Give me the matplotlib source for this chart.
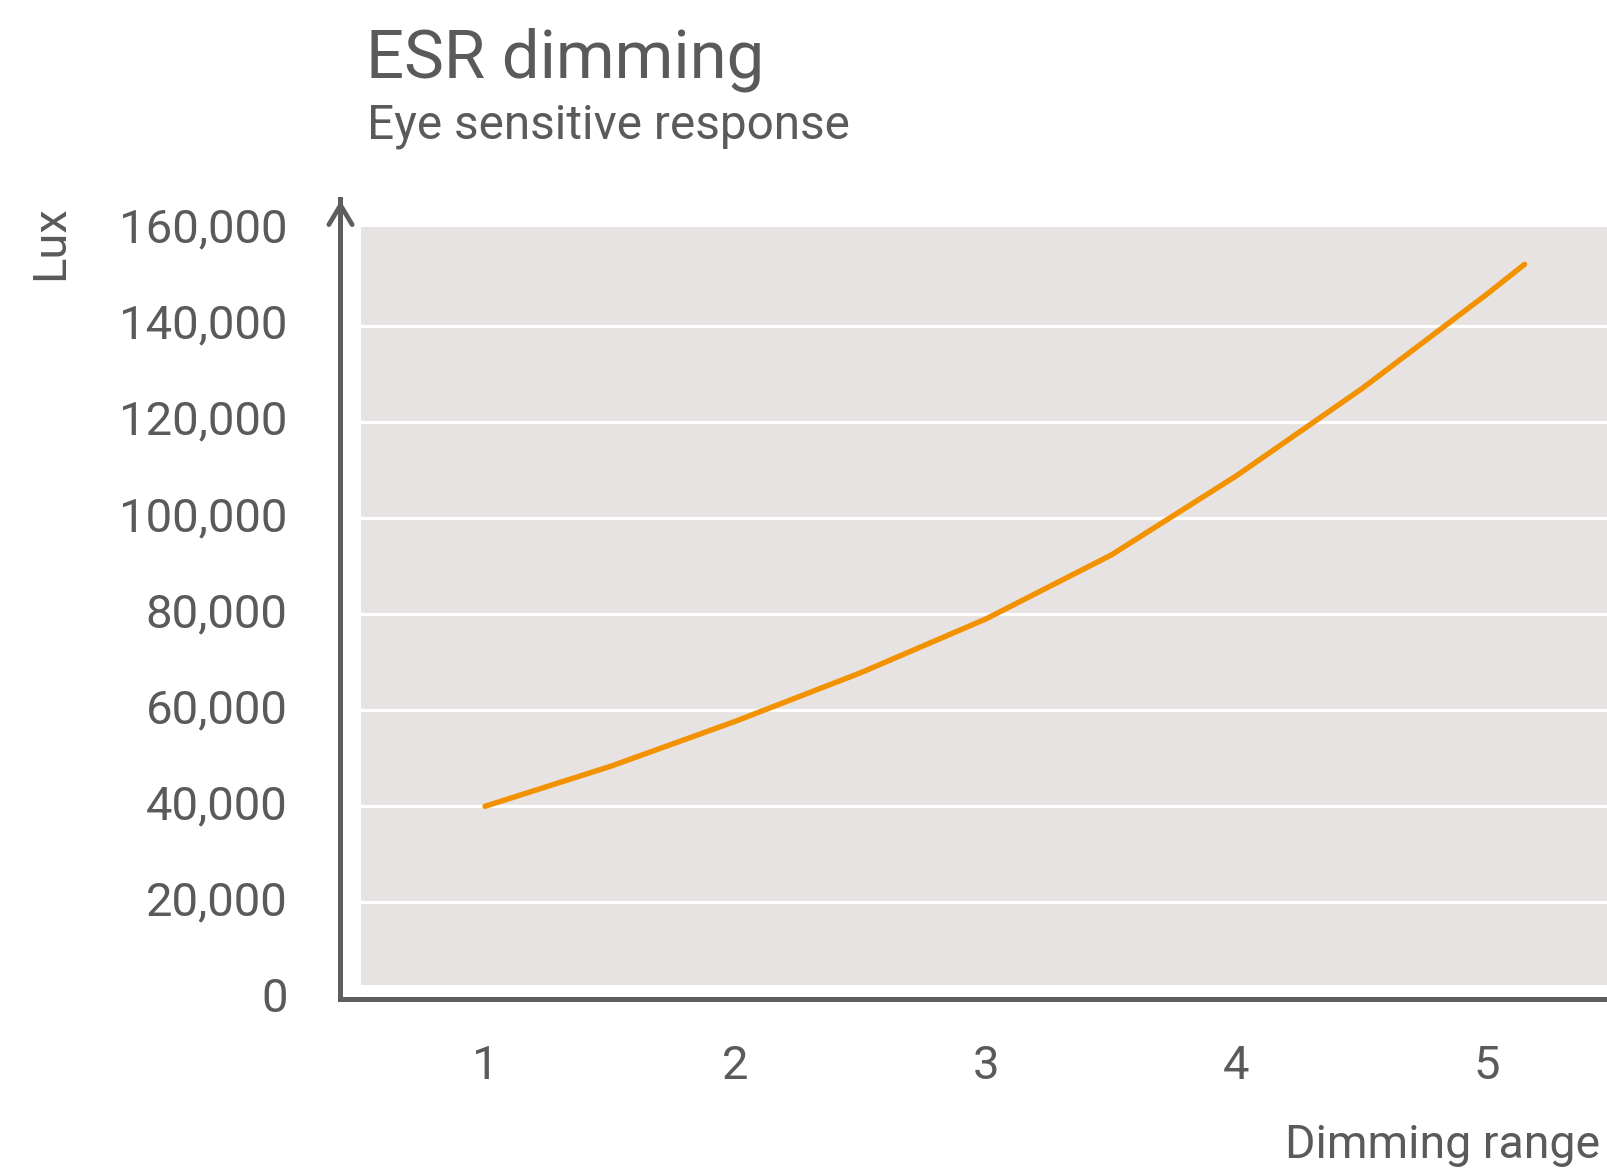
import matplotlib
matplotlib.use("Agg")
import matplotlib.pyplot as plt
from matplotlib.ticker import FuncFormatter

# ---- data ----
dimming_range = [1.0, 1.5, 2.0, 2.5, 3.0, 3.5, 4.0, 4.5, 5.0, 5.15]
lux = [40000, 48300, 57700, 67800, 79000, 92300, 108800, 126900, 146600, 152800]
x_ticks = [1, 2, 3, 4, 5]
y_ticks = [0, 20000, 40000, 60000, 80000, 100000, 120000, 140000, 160000]

title = "ESR dimming"
subtitle = "Eye sensitive response"
y_label = "Lux"
x_label = "Dimming range"

# ---- style ----
TEXT = "#5b5a59"
AXIS = "#5f5e5c"
BG = "#e8e3e3"
ORANGE = "#f39200"
FONT = "Roboto"

W, H = 1608, 1168
fig = plt.figure(figsize=(W / 100, H / 100), dpi=100)
fig.patch.set_facecolor("white")

ax_left_px, ax_bottom_px, ax_top_px = 340.5, 998.5, 199
ax = fig.add_axes([ax_left_px / W, 1 - ax_bottom_px / H,
                   (W - ax_left_px) / W, (ax_bottom_px - ax_top_px) / H])
ax.set_facecolor("white")
ax.set_xlim(0.4232, 5.483)
ax.set_ylim(0, 166389)

# gray plot region
ax.axhspan(2810, 160562, xmin=0.0162, xmax=1.0, color=BG, lw=0, zorder=0)

# grid
ax.set_yticks(y_ticks)
ax.set_xticks(x_ticks)
ax.yaxis.grid(True, color="white", lw=2.3, zorder=1)
ax.set_axisbelow(True)
gl = ax.get_ygridlines()
gl[0].set_visible(False)
gl[-1].set_visible(False)

# line
ax.plot(dimming_range, lux, color=ORANGE, lw=3.9, solid_capstyle="round",
        solid_joinstyle="round", zorder=3)

# spines
for s in ("top", "right"):
    ax.spines[s].set_visible(False)
for s in ("left", "bottom"):
    ax.spines[s].set_color(AXIS)
    ax.spines[s].set_linewidth(3.6)
    ax.spines[s].set_zorder(4)

# arrow head on y axis
ax.annotate("", xy=(0, 0.998), xytext=(0, 0.95), xycoords="axes fraction",
            arrowprops=dict(arrowstyle="->,head_length=0.7,head_width=0.42",
                            color=AXIS, lw=3.4, mutation_scale=20,
                            shrinkA=0, shrinkB=0),
            annotation_clip=False, zorder=5)

ax.yaxis.set_major_formatter(FuncFormatter(lambda v, p: f"{int(v):,}"))
ax.tick_params(axis="both", length=0, colors=TEXT, labelsize=34)
ax.tick_params(axis="y", pad=38)
ax.tick_params(axis="x", pad=33)
for lab in ax.get_xticklabels() + ax.get_yticklabels():
    lab.set_fontfamily(FONT)
    lab.set_color(TEXT)
for lab in ax.get_yticklabels():
    lab.set_verticalalignment("center")

# texts
fig.text(366 / W, 1 - 77 / H, title, fontsize=48.3, family=FONT, color=TEXT,
         va="baseline", ha="left")
fig.text(367 / W, 1 - 138.4 / H, subtitle, fontsize=34.4, family=FONT, color=TEXT,
         va="baseline", ha="left")
fig.text(50 / W, 1 - 243 / H, y_label, fontsize=34, family=FONT, color=TEXT,
         rotation=90, va="center", ha="center")
fig.text(1285 / W, 1 - 1158 / H, x_label, fontsize=33.4, family=FONT, color=TEXT,
         va="baseline", ha="left")

fig.savefig("out.png", dpi=100, facecolor="white")
